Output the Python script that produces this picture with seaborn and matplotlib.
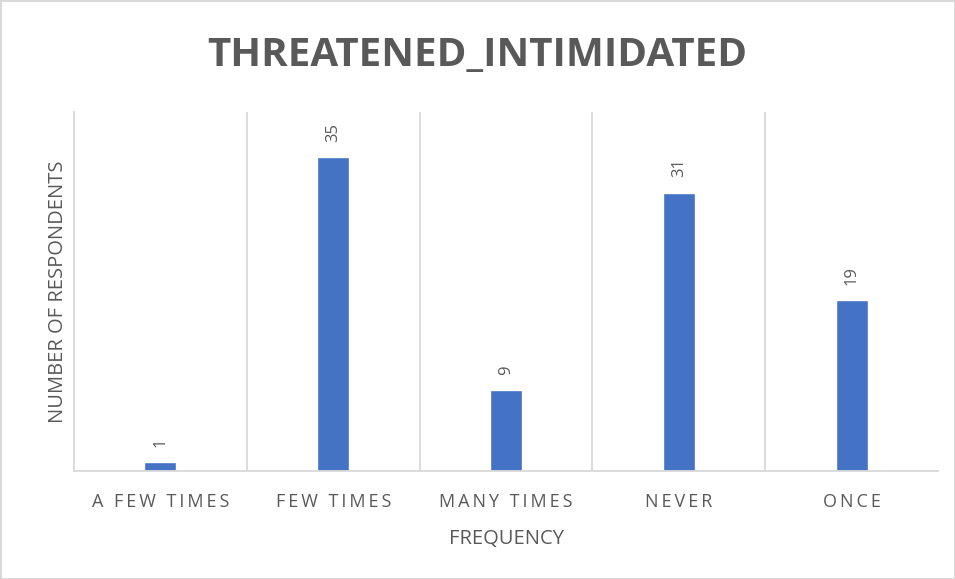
import matplotlib
matplotlib.use("Agg")
import matplotlib.pyplot as plt
import seaborn as sns
import pandas as pd
import numpy as np

categories = ["A FEW TIMES", "FEW TIMES", "MANY TIMES", "NEVER", "ONCE"]
values = [1, 35, 9, 31, 19]
title = "THREATENED_INTIMIDATED"
xlabel = "FREQUENCY"
ylabel = "NUMBER OF RESPONDENTS"

sns.set_theme(style="white")
plt.rcParams['font.family'] = ['Open Sans', 'DejaVu Sans']

df = pd.DataFrame({"cat": categories, "val": values})
fig = plt.figure(figsize=(9.55, 5.79), dpi=100)
fig.patch.set_edgecolor("#D9D9D9")
fig.patch.set_linewidth(2)
ax = fig.add_axes([74/955, 1-471/579, 864/955, 359/579])
sns.barplot(data=df, x="cat", y="val", color="#4472C4", width=0.185, saturation=1, ax=ax)
ax.set_ylim(0, 40)
ax.set_xlim(-0.5, len(categories) - 0.5)
ax.set_yticks([])
ax.set_xticks(np.arange(len(categories) - 1) + 0.5, minor=True)
ax.grid(True, which="minor", axis="x", color="#D9D9D9", linewidth=1.3)
ax.tick_params(axis="x", which="both", length=0, pad=16)
spaced = ["\u2009".join(list(c)) for c in categories]
ax.set_xticks(range(len(categories)))
ax.set_xticklabels(spaced, fontsize=13, color="#595959")
for s in ["top", "right"]:
    ax.spines[s].set_visible(False)
ax.spines["left"].set_color("#D9D9D9")
ax.spines["left"].set_linewidth(1.3)
ax.spines["bottom"].set_color("#D9D9D9")
ax.spines["bottom"].set_linewidth(1.3)
ax.set_xlabel(xlabel, fontsize=14.5, color="#595959", labelpad=13)
ax.set_ylabel(ylabel, fontsize=14.5, color="#595959", labelpad=4)
for i, v in enumerate(values):
    ax.annotate(str(v), (i, v), xytext=(0, 11), textcoords="offset points",
                rotation=90, ha="center", va="bottom", fontsize=12, color="#595959")
fig.text(0.5, 1 - 55/579, title, ha="center", va="center", fontsize=29,
         fontweight="bold", color="#595959")
fig.savefig("out.png", dpi=100)
